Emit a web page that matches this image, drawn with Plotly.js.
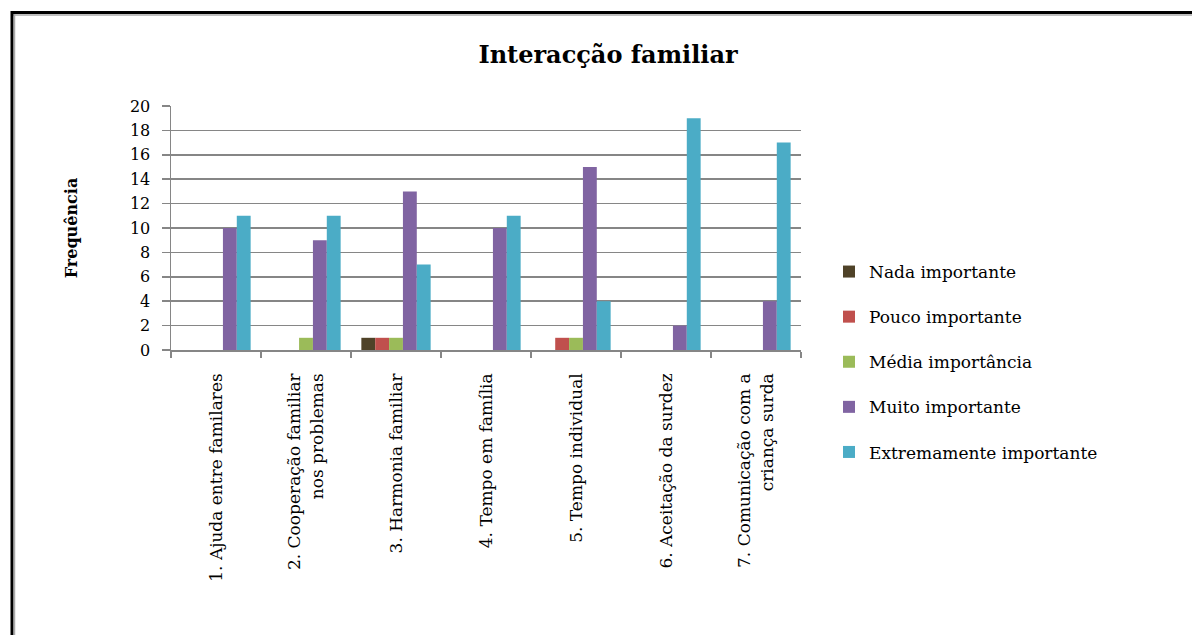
<!DOCTYPE html>
<html>
<head>
<meta charset="utf-8">
<script src="https://cdn.plot.ly/plotly-3.0.1.min.js"></script>
<style>
html,body{margin:0;padding:0;background:#fff;}
#chart{width:1192px;height:635px;}
</style>
</head>
<body>
<div id="chart"></div>
<script>
const categories = [
  "1. Ajuda entre familares",
  "2. Cooperação familiar<br>nos problemas",
  "3. Harmonia familiar",
  "4. Tempo em família",
  "5. Tempo individual",
  "6. Aceitação da surdez",
  "7. Comunicação com a<br>criança surda"
];
const seriesNames = ["Nada importante","Pouco importante","Média importância","Muito importante","Extremamente importante"];
const nada = [0,0,1,0,0,0,0];
const pouco = [0,0,1,0,1,0,0];
const media = [0,1,1,0,1,0,0];
const muito = [10,9,13,10,15,2,4];
const extremamente = [11,11,7,11,4,19,17];
const colors = ["#4F4228","#C0504D","#9BBB59","#8064A2","#4BACC6"];
const yTicks = [0,2,4,6,8,10,12,14,16,18,20];

const serif = "DejaVu Serif, Liberation Serif, serif";
const allSeries = [nada, pouco, media, muito, extremamente];
const traces = allSeries.map((vals, i) => ({
  type: "bar",
  name: seriesNames[i],
  x: categories,
  y: vals,
  marker: {color: colors[i]},
  legendgroup: "g" + i,
  hoverinfo: "x+y+name"
}));

// plot area: x 171..801, y 106..350
const L = 171, R = 801, T = 106, B = 350, W = 1192, H = 635;
const px = v => (v - L) / (R - L);
const py = v => (B - v) / (B - T);

const layout = {
  width: W, height: H,
  margin: {l: L, r: W - R, t: T, b: H - B, pad: 0},
  paper_bgcolor: "#ffffff",
  plot_bgcolor: "#ffffff",
  barmode: "group",
  bargap: 0.23,
  bargroupgap: 0,
  showlegend: true,
  title: {
    text: "<b>Interacção familiar</b>",
    font: {family: serif, size: 24, color: "#000"},
    x: px(608), xref: "paper", xanchor: "center",
    y: 1 - 55 / H, yanchor: "middle"
  },
  font: {family: serif, color: "#000"},
  xaxis: {
    type: "category",
    tickangle: -90,
    tickson: "boundaries",
    ticks: "outside",
    ticklen: 6,
    tickcolor: "#868686",
    tickwidth: 1.5,
    showline: true,
    linecolor: "#868686",
    linewidth: 1.5,
    showgrid: false,
    tickfont: {family: serif, size: 17, color: "#000"},
    ticklabelstandoff: 15,
    fixedrange: true
  },
  yaxis: {
    range: [0, 20],
    tickvals: yTicks,
    ticktext: yTicks.map(String),
    ticks: "outside",
    ticklen: 8,
    tickcolor: "#868686",
    tickwidth: 1.5,
    showline: true,
    linecolor: "#868686",
    linewidth: 1.5,
    showgrid: true,
    gridcolor: "#868686",
    gridwidth: 1.5,
    zeroline: false,
    tickfont: {family: serif, size: 16, color: "#000"},
    ticklabelstandoff: 8,
    title: {
      text: "<b>Frequência</b>",
      font: {family: serif, size: 16, color: "#000"},
      standoff: 48
    },
    fixedrange: true
  },
  legend: {
    x: px(829), xanchor: "left",
    y: py(254), yanchor: "top",
    font: {family: serif, size: 17, color: "#000"},
    tracegroupgap: 20,
    itemwidth: 30,
    bgcolor: "rgba(0,0,0,0)"
  },
  shapes: [
    {type: "line", xref: "paper", yref: "paper", x0: px(12), x1: px(1192), y0: py(12.5), y1: py(12.5), line: {color: "#000", width: 3}},
    {type: "line", xref: "paper", yref: "paper", x0: px(12), x1: px(1192), y0: py(15), y1: py(15), line: {color: "#aaaaaa", width: 1.5}},
    {type: "line", xref: "paper", yref: "paper", x0: px(12), x1: px(12), y0: py(11), y1: py(640), line: {color: "#000", width: 3}},
    {type: "line", xref: "paper", yref: "paper", x0: px(14.5), x1: px(14.5), y0: py(14), y1: py(640), line: {color: "#aaaaaa", width: 1.5}}
  ]
};

Plotly.newPlot("chart", traces, layout, {displayModeBar: false, staticPlot: true});
</script>
</body>
</html>
